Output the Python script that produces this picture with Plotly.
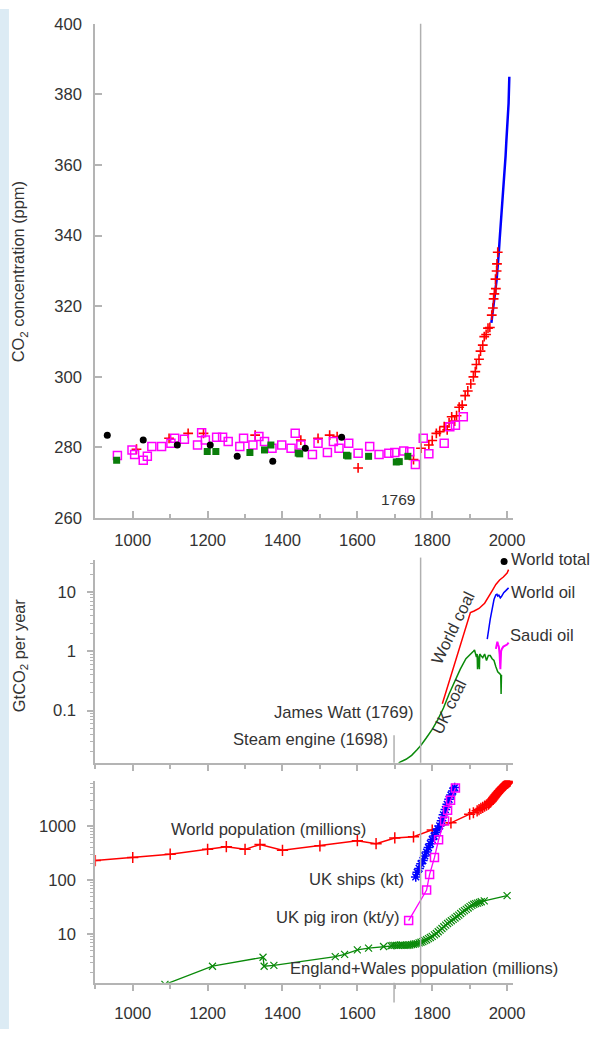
import plotly.graph_objects as go

# ---------------- DATA ----------------
# Top panel: CO2 concentration (ppm)
black_year = [932, 1028, 1119, 1207, 1279, 1374, 1461, 1558]
black_co2 = [283.5, 282.1, 280.7, 280.7, 277.5, 276.1, 279.8, 282.9]

green_year = [957, 1199, 1222, 1313, 1352, 1369, 1442, 1446, 1571, 1575, 1630, 1704, 1712, 1735]
green_co2 = [276.4, 278.9, 278.9, 278.6, 279.3, 280.7, 278.4, 278.2, 277.8, 277.6, 277.5, 275.9, 276.0, 277.5]

magenta_year = [959, 998, 1005, 1028, 1039, 1051, 1077, 1102, 1112, 1138, 1173, 1184, 1194, 1224,
                1240, 1255, 1286, 1296, 1321, 1337, 1352, 1372, 1398, 1423, 1434, 1449, 1480, 1495,
                1520, 1536, 1551, 1577, 1602, 1633, 1658, 1684, 1700, 1724, 1740, 1755, 1776, 1791,
                1832, 1847, 1862, 1883]
magenta_co2 = [277.7, 279.3, 278.0, 276.4, 277.5, 280.3, 280.3, 281.2, 282.6, 282.3, 280.7, 284.2, 282.1, 282.9,
               282.9, 281.7, 280.3, 282.6, 280.7, 283.1, 281.7, 279.8, 280.7, 279.8, 284.0, 280.7, 278.0, 281.2,
               278.6, 281.7, 279.8, 281.2, 278.4, 280.3, 278.0, 278.4, 278.6, 279.0, 278.8, 275.2, 282.6, 278.2,
               281.2, 285.9, 286.3, 288.7]

red_year = [1010, 1097, 1148, 1189, 1327, 1449, 1495, 1526, 1546, 1602, 1750, 1770, 1791, 1800, 1811, 1820,
            1832, 1840, 1845, 1852, 1860, 1865, 1872, 1880, 1888, 1895, 1903, 1910, 1915, 1918, 1925, 1929,
            1935, 1939, 1944, 1949, 1954, 1959, 1962, 1964, 1966, 1969, 1970, 1972, 1973, 1975]
red_co2 = [279.5, 282.6, 284.0, 284.0, 283.5, 282.1, 282.6, 283.5, 283.1, 274.2, 276.6, 279.8, 280.7, 282.0, 284.0, 284.5,
           285.9, 285.0, 287.0, 288.7, 287.5, 289.0, 291.4, 292.0, 294.7, 296.0, 298.0, 300.0, 301.5, 303.5, 305.0, 307.3,
           309.0, 311.4, 312.0, 313.8, 314.0, 317.5, 319.5, 322.1, 323.5, 327.7, 325.0, 330.0, 332.0, 335.3]

maunaloa_year = [1958, 1960, 1962, 1964, 1966, 1968, 1970, 1972, 1974, 1976, 1978, 1980, 1982,
                 1984, 1986, 1988, 1990, 1992, 1994, 1996, 1998, 2000, 2002, 2004, 2006]
maunaloa_co2 = [315.3, 316.9, 318.4, 319.6, 321.4, 323.0, 325.7, 327.5, 330.2, 332.1, 335.4, 338.7, 341.4,
                344.4, 347.2, 351.6, 354.4, 356.4, 358.8, 362.6, 366.7, 369.4, 373.2, 377.5, 385.0]

# Middle panel: GtCO2 per year
ukcoal_year = [1700, 1714, 1730, 1745, 1760, 1770, 1785, 1800, 1815, 1830, 1845, 1860, 1875, 1890, 1900, 1910,
               1913, 1918, 1920, 1921, 1922, 1926, 1927, 1930, 1935, 1940, 1945, 1950, 1955, 1960, 1965, 1970,
               1975, 1980, 1983, 1984, 1985]
ukcoal_gt = [0.011, 0.0135, 0.015, 0.0175, 0.022, 0.026, 0.035, 0.048, 0.07, 0.11, 0.19, 0.31, 0.5, 0.75, 0.85, 1.0,
             1.05, 0.8, 0.9, 0.5, 0.85, 0.5, 0.9, 0.85, 0.78, 0.9, 0.7, 0.85, 0.85, 0.75, 0.7, 0.55,
             0.45, 0.42, 0.4, 0.19, 0.4]

worldcoal_year = [1827, 1850, 1875, 1895, 1902, 1912, 1925, 1940, 1950, 1960, 1970, 1980, 1990, 2000, 2004]
worldcoal_gt = [0.13, 0.38, 1.2, 3.3, 4.5, 4.8, 5.3, 6.5, 8.5, 10.5, 13.5, 16.0, 18.0, 21.0, 24.0]

worldoil_year = [1947, 1955, 1965, 1970, 1973, 1975, 1978, 1982, 1985, 1991, 1996, 2004]
worldoil_gt = [1.6, 3.5, 7.5, 9.0, 9.2, 8.6, 8.9, 8.0, 8.4, 9.8, 10.5, 11.8]

saudioil_year = [1970, 1974, 1976, 1978, 1980, 1982, 1984, 1986, 1990, 1995, 2000, 2004]
saudioil_gt = [1.1, 1.45, 1.3, 1.2, 0.9, 0.5, 1.0, 1.1, 1.2, 1.25, 1.3, 1.4]

worldtotal_year = [1992]
worldtotal_gt = [33]

# Bottom panel
worldpop_year = [900, 1000, 1100, 1200, 1250, 1300, 1340, 1400, 1500, 1600, 1650, 1700, 1750, 1800,
                 1850, 1900, 1910, 1920, 1925, 1930, 1935, 1940, 1945, 1950, 1952, 1954, 1956, 1958,
                 1960, 1962, 1964, 1966, 1968, 1970, 1972, 1974, 1976, 1978, 1980, 1982, 1984, 1986,
                 1988, 1990, 1992, 1994, 1996, 1998, 2000, 2002, 2004, 2006, 2008]
worldpop_m = [230, 262, 302, 370, 415, 370, 455, 355, 430, 535, 470, 600, 630, 840,
              1140, 1650, 1750, 1900, 2000, 2100, 2200, 2320, 2420, 2520, 2630, 2710, 2780, 2880,
              3020, 3140, 3280, 3420, 3560, 3700, 3850, 4000, 4150, 4290, 4440, 4610, 4770, 4940,
              5120, 5290, 5460, 5620, 5780, 5940, 6090, 6240, 6390, 6540, 6700]

ships_year = [1756, 1760, 1765, 1770, 1775, 1780, 1785, 1790, 1795, 1800, 1805, 1810, 1815,
              1820, 1825, 1830, 1835, 1840, 1845, 1850, 1855, 1860]
ships_kt = [115, 140, 165, 200, 230, 280, 330, 400, 470, 560, 650, 760, 880,
            1000, 1250, 1600, 2000, 2500, 3100, 3700, 4400, 5100]

pigiron_year = [1737, 1785, 1793, 1806, 1817, 1833, 1841, 1849, 1862]
pigiron_kt = [18, 66, 128, 262, 556, 1230, 1950, 2970, 5000]

enwales_year = [1086, 1213, 1348, 1351, 1377, 1541, 1566, 1600, 1630, 1670, 1690, 1695, 1700, 1705, 1710,
                1715, 1720, 1725, 1730, 1735, 1740, 1745, 1750, 1755, 1760, 1765, 1770, 1775, 1780,
                1785, 1790, 1795, 1800, 1806, 1811, 1816, 1821, 1826, 1831, 1836, 1841, 1846, 1851,
                1856, 1861, 1866, 1871, 1876, 1881, 1886, 1891, 1896, 1901, 1906, 1911, 1916, 1921,
                1926, 1931, 1939, 2000]
enwales_m = [1.2, 2.6, 3.8, 2.6, 2.7, 3.9, 4.3, 5.2, 5.6, 6.0, 6.2, 6.3, 6.3, 6.3, 6.3,
             6.4, 6.4, 6.3, 6.3, 6.3, 6.4, 6.5, 6.6, 6.7, 6.8, 7.0, 7.2, 7.4, 7.7,
             8.0, 8.4, 8.8, 9.2, 9.8, 10.4, 11.2, 12.0, 12.9, 13.9, 14.9, 15.9, 16.9, 17.9,
             19.0, 20.1, 21.4, 22.7, 24.3, 26.0, 27.5, 29.0, 30.7, 32.5, 34.3, 36.1, 37.0, 37.9,
             39.0, 40.0, 41.5, 52.0]

year_ticks = [1000, 1200, 1400, 1600, 1800, 2000]
co2_ticks = [260, 280, 300, 320, 340, 360, 380, 400]

# ---------------- LAYOUT HELPERS ----------------
W, H = 604, 1039
SX, SY = 0.984, 0.995   # compensation for how the page is captured

def px(x):
    return (x / SX) / W
def py(y):
    return 1 - (y / SY) / H

AX_L, AX_R = 95.85, 515.6
AXCOL = "#b4b4b4"
TXT = "#333333"
FONT = "Liberation Sans, Arial, sans-serif"
FS = 16.6

fig = go.Figure()

# top panel traces
fig.add_trace(go.Scatter(x=maunaloa_year, y=maunaloa_co2, mode="lines",
                         line=dict(color="#0000ff", width=2.5), xaxis="x", yaxis="y"))
fig.add_trace(go.Scatter(x=red_year, y=red_co2, mode="markers",
                         marker=dict(symbol="cross-thin", size=7, line=dict(color="#ff0000", width=1.6)),
                         xaxis="x", yaxis="y"))
fig.add_trace(go.Scatter(x=magenta_year, y=magenta_co2, mode="markers",
                         marker=dict(symbol="square-open", size=8, color="#ff00ff", line=dict(width=1.5)),
                         xaxis="x", yaxis="y"))
fig.add_trace(go.Scatter(x=green_year, y=green_co2, mode="markers",
                         marker=dict(symbol="square", size=7, color="#0a7d0a"),
                         xaxis="x", yaxis="y"))
fig.add_trace(go.Scatter(x=black_year, y=black_co2, mode="markers",
                         marker=dict(symbol="circle", size=7, color="#000000"),
                         xaxis="x", yaxis="y"))

# middle panel traces
fig.add_trace(go.Scatter(x=ukcoal_year, y=ukcoal_gt, mode="lines",
                         line=dict(color="#0a8a0a", width=1.5), xaxis="x2", yaxis="y2"))
fig.add_trace(go.Scatter(x=worldcoal_year, y=worldcoal_gt, mode="lines",
                         line=dict(color="#ff0000", width=1.5), xaxis="x2", yaxis="y2"))
fig.add_trace(go.Scatter(x=worldoil_year, y=worldoil_gt, mode="lines",
                         line=dict(color="#0000ff", width=1.5), xaxis="x2", yaxis="y2"))
fig.add_trace(go.Scatter(x=saudioil_year, y=saudioil_gt, mode="lines",
                         line=dict(color="#ff00ff", width=2), xaxis="x2", yaxis="y2"))
fig.add_trace(go.Scatter(x=worldtotal_year, y=worldtotal_gt, mode="markers", cliponaxis=False,
                         marker=dict(color="#000000", size=7), xaxis="x2", yaxis="y2"))

# bottom panel traces
fig.add_trace(go.Scatter(x=enwales_year, y=enwales_m, mode="lines+markers",
                         line=dict(color="#0a8a0a", width=1.3),
                         marker=dict(symbol="x-thin", size=7, line=dict(color="#0a8a0a", width=1.2)),
                         xaxis="x3", yaxis="y3"))
fig.add_trace(go.Scatter(x=worldpop_year, y=worldpop_m, mode="lines+markers",
                         line=dict(color="#ff0000", width=1.5),
                         marker=dict(symbol="cross-thin", size=8, line=dict(color="#ff0000", width=1.5)),
                         xaxis="x3", yaxis="y3"))
fig.add_trace(go.Scatter(x=ships_year, y=ships_kt, mode="lines+markers",
                         line=dict(color="#0000ff", width=1.2),
                         marker=dict(symbol="asterisk", size=8, line=dict(color="#0000ff", width=1.5)),
                         xaxis="x3", yaxis="y3"))
fig.add_trace(go.Scatter(x=pigiron_year, y=pigiron_kt, mode="lines+markers",
                         line=dict(color="#ff00ff", width=1.3),
                         marker=dict(symbol="square-open", size=8, color="#ff00ff", line=dict(width=1.5)),
                         xaxis="x3", yaxis="y3"))

xdom = [px(AX_L), px(AX_R)]
tf = dict(size=FS, color=TXT, family=FONT)
common_x = dict(domain=xdom, range=[900, 2015], showline=True, linecolor=AXCOL, linewidth=2,
                showgrid=False, zeroline=False, tickcolor=AXCOL, tickwidth=1.5,
                tickfont=tf, tickvals=year_ticks)
minor_x_in = dict(tickvals=[900, 1100, 1300, 1500, 1700, 1900], ticks="inside",
                  ticklen=4, tickcolor=AXCOL, tickwidth=1.5)
minor_x_out = dict(tickvals=[900, 1100, 1300, 1500, 1700, 1900], ticks="outside",
                   ticklen=4, tickcolor=AXCOL, tickwidth=1.5)

fig.update_layout(
    width=W, height=H, margin=dict(l=0, r=0, t=0, b=0),
    paper_bgcolor="white", plot_bgcolor="white", showlegend=False,
    font=dict(family=FONT, color=TXT, size=FS),
    xaxis=dict(**common_x, anchor="y", ticks="inside", ticklen=7, ticklabelstandoff=6,
               minor=minor_x_in),
    yaxis=dict(domain=[py(516), py(15)], range=[260, 400], anchor="x", showline=True,
               linecolor=AXCOL, linewidth=2, showgrid=False, zeroline=False,
               ticks="inside", ticklen=7, tickcolor=AXCOL, tickwidth=1.5, tickvals=co2_ticks,
               ticklabelstandoff=8, tickfont=tf),
    xaxis2=dict(**common_x, anchor="y2", ticks="outside", ticklen=6, showticklabels=False,
                minor=minor_x_out),
    yaxis2=dict(domain=[py(764), py(558)], type="log", range=[-1.883, 1.55], anchor="x2",
                showline=True, linecolor=AXCOL, linewidth=2, showgrid=False, zeroline=False,
                ticks="outside", ticklen=6, tickcolor=AXCOL, tickwidth=1.5,
                tickvals=[0.1, 1, 10], ticktext=["0.1", "1", "10"], ticklabelstandoff=8,
                tickfont=tf,
                minor=dict(tickvals=[0.02, 0.03, 0.04, 0.05, 0.06, 0.07, 0.08, 0.09,
                                     0.2, 0.3, 0.4, 0.5, 0.6, 0.7, 0.8, 0.9,
                                     2, 3, 4, 5, 6, 7, 8, 9, 20, 30],
                           ticks="outside", ticklen=3, tickcolor=AXCOL, tickwidth=1.2)),
    xaxis3=dict(**common_x, anchor="y3", ticks="outside", ticklen=6, ticklabelstandoff=8,
                minor=minor_x_out),
    yaxis3=dict(domain=[py(987), py(782)], type="log", range=[0.109, 3.836], anchor="x3",
                showline=True, linecolor=AXCOL, linewidth=2, showgrid=False, zeroline=False,
                ticks="outside", ticklen=6, tickcolor=AXCOL, tickwidth=1.5,
                tickvals=[10, 100, 1000], ticktext=["10", "100", "1000"], ticklabelstandoff=8,
                tickfont=tf,
                minor=dict(tickvals=[2, 3, 4, 5, 6, 7, 8, 9, 20, 30, 40, 50, 60, 70, 80, 90,
                                     200, 300, 400, 500, 600, 700, 800, 900,
                                     2000, 3000, 4000, 5000, 6000],
                           ticks="outside", ticklen=3, tickcolor=AXCOL, tickwidth=1.2)),
)

# vertical marker lines
LCOL = "#b0b0b0"
shapes = [
    dict(type="line", xref="x", yref="paper", x0=1769, x1=1769, y0=py(516), y1=py(15),
         line=dict(color=LCOL, width=1.5)),
    dict(type="line", xref="x2", yref="paper", x0=1769, x1=1769, y0=py(764), y1=py(556),
         line=dict(color=LCOL, width=1.5)),
    dict(type="line", xref="x2", yref="paper", x0=1698, x1=1698, y0=py(764), y1=py(736),
         line=dict(color=LCOL, width=1.5)),
    dict(type="line", xref="x3", yref="paper", x0=1769, x1=1769, y0=py(987), y1=py(781),
         line=dict(color=LCOL, width=1.5)),
    dict(type="line", xref="x3", yref="paper", x0=1698, x1=1698, y0=py(1007), y1=py(987),
         line=dict(color=LCOL, width=1.5)),
    dict(type="rect", xref="paper", yref="paper", x0=0, x1=px(9), y0=0, y1=1,
         fillcolor="#dcebf4", line=dict(width=0), layer="below"),
]
fig.update_layout(shapes=shapes)

def ann(text, x, y, xanchor="center", angle=0, size=FS):
    return dict(text=text, x=px(x), y=py(y), xref="paper", yref="paper", showarrow=False,
                xanchor=xanchor, yanchor="middle", textangle=angle,
                font=dict(size=size, color=TXT, family=FONT))

annotations = [
    ann("CO<sub>2</sub> concentration (ppm)", 20, 266, angle=-90, size=16.4),
    ann("GtCO<sub>2</sub> per year", 20, 655, angle=-90, size=16.4),
    ann("1769", 419, 497, xanchor="right", size=15.5),
    ann("World total", 512, 558, xanchor="left"),
    ann("World oil", 512, 591, xanchor="left"),
    ann("Saudi oil", 511, 635, xanchor="left"),
    ann("World coal", 456, 627, angle=-64),
    ann("UK coal", 452, 707, angle=-64),
    ann("James Watt (1769)", 418, 713, xanchor="right"),
    ann("Steam engine (1698)", 392, 740, xanchor="right"),
    ann("World population (millions)", 270, 832),
    ann("UK ships (kt)", 408, 882, xanchor="right"),
    ann("UK pig iron (kt/y)", 404, 921, xanchor="right"),
    ann("England+Wales population (millions)", 290, 972, xanchor="left"),
]
fig.update_layout(annotations=annotations)

post = ("document.documentElement.style.margin='0';document.documentElement.style.padding='0';"
        "document.documentElement.style.overflow='hidden';"
        "document.body.style.margin='0';document.body.style.padding='0';document.body.style.overflow='hidden';"
        "var gd=document.getElementById('{plot_id}');gd.style.position='absolute';gd.style.left='0px';gd.style.top='0px';")
fig.write_html("out.html", config={"displayModeBar": False}, post_script=post)
